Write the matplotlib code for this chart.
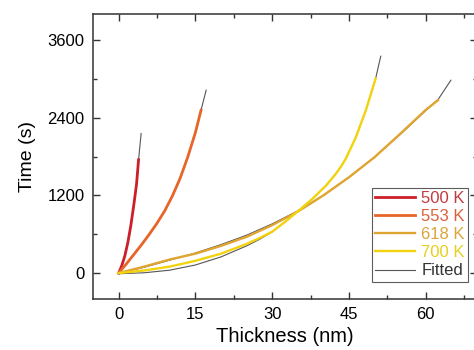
import matplotlib
matplotlib.use("Agg")
import matplotlib.pyplot as plt
from matplotlib.ticker import MultipleLocator

plt.rcParams['font.family'] = ['Liberation Sans', 'DejaVu Sans']

# measured growth curves (thickness in nm, time in s)
d_500 = [0, 0.6, 1.2, 1.8, 2.4, 3.0, 3.5, 3.9]
t_500 = [0, 110, 260, 470, 740, 1070, 1370, 1750]
d_553 = [0, 1.5, 3, 4.5, 6, 7.5, 9, 10.5, 12, 13.5, 15, 16.1]
t_553 = [0, 140, 290, 440, 600, 770, 960, 1190, 1460, 1790, 2170, 2515]
d_618 = [0, 5, 10, 15, 20, 25, 30, 35, 40, 45, 50, 55, 60, 62.4]
t_618 = [0, 100, 210, 300, 420, 560, 740, 950, 1200, 1480, 1790, 2150, 2520, 2670]
d_700 = [0, 5, 10, 15, 20, 25, 27.5, 30, 32.5, 35.3, 37.9, 40.5, 42.4, 43.4, 44.4, 46.3, 48.3, 50.2]
t_700 = [0, 40, 100, 190, 300, 450, 540, 640, 790, 972, 1150, 1350, 1530, 1640, 1770, 2090, 2515, 3004]

# fitted curves
fd_500 = [0, 0.6, 1.2, 1.8, 2.4, 3.0, 3.5, 3.9, 4.4]
ft_500 = [0, 110, 260, 470, 740, 1070, 1370, 1750, 2155]
fd_553 = [0, 1.5, 3, 4.5, 6, 7.5, 9, 10.5, 12, 13.5, 15, 16.1, 17.1]
ft_553 = [0, 140, 290, 440, 600, 770, 960, 1190, 1460, 1790, 2170, 2515, 2824]
fd_618 = [0, 5, 10, 15, 20, 25, 30, 35, 40, 45, 50, 55, 60, 62.4, 64.9]
ft_618 = [0, 90, 200, 310, 440, 585, 760, 960, 1200, 1480, 1790, 2140, 2510, 2680, 2978]
fd_700 = [0, 5, 10, 15, 20, 25, 27.5, 30, 32.5, 35.3, 37.9, 40.5, 42.4, 43.4, 44.4, 46.3, 48.3, 50.2, 51.2]
ft_700 = [-10, 5, 45, 125, 250, 420, 520, 635, 790, 975, 1150, 1350, 1530, 1640, 1770, 2090, 2515, 3004, 3348]

labels = ["500 K", "553 K", "618 K", "700 K", "Fitted"]
colors = ["#cc1f2a", "#e8652a", "#e0a531", "#f2d30e", "#555555"]
text_colors = ["#c23a3f", "#d9603c", "#dca43a", "#e8cf1c", "#333333"]

fig = plt.figure(figsize=(4.74, 3.5), dpi=100)
ax = fig.add_axes([93 / 474, 1 - 299 / 350, 384 / 474, 285 / 350])

fits = [(fd_500, ft_500), (fd_553, ft_553), (fd_618, ft_618), (fd_700, ft_700)]
for fd, ft in fits:
    ax.plot(fd, ft, color=colors[4], lw=0.8, zorder=2)

data = [(d_500, t_500, 2.0), (d_553, t_553, 2.0), (d_618, t_618, 1.7), (d_700, t_700, 1.7)]
handles = []
for (d, t, lw), c, lab in zip(data, colors, labels):
    h, = ax.plot(d, t, color=c, lw=lw, label=lab, zorder=3, solid_joinstyle='round')
    handles.append(h)
hf, = ax.plot([], [], color=colors[4], lw=0.8, label="Fitted")
handles.append(hf)

ax.set_xlim(-5, 70)
ax.set_ylim(-400, 4000)
ax.xaxis.set_major_locator(MultipleLocator(15))
ax.xaxis.set_minor_locator(MultipleLocator(7.5))
ax.yaxis.set_major_locator(MultipleLocator(1200))
ax.yaxis.set_minor_locator(MultipleLocator(600))
ax.tick_params(which='both', direction='in', top=True, right=True, labelsize=12, color='#333333')
ax.tick_params(which='major', length=5, width=1, pad=6)
ax.tick_params(which='minor', length=3, width=1)
for s in ax.spines.values():
    s.set_linewidth(1.1)
    s.set_color('#333333')

ax.set_xlabel("Thickness (nm)", fontsize=14.5, labelpad=3)
ax.set_ylabel("Time (s)", fontsize=14, labelpad=8)

leg = ax.legend(handles=handles, loc='upper left', bbox_to_anchor=(372 / 474, 1 - 188 / 350),
                bbox_transform=fig.transFigure, fontsize=12, frameon=True, fancybox=False,
                edgecolor='#333333', handlelength=2.4, handletextpad=0.35,
                labelspacing=0.18, borderpad=0.2, borderaxespad=0)
leg.get_frame().set_linewidth(0.8)
for txt, tc in zip(leg.get_texts(), text_colors):
    txt.set_color(tc)

fig.savefig("out.png", dpi=100)
